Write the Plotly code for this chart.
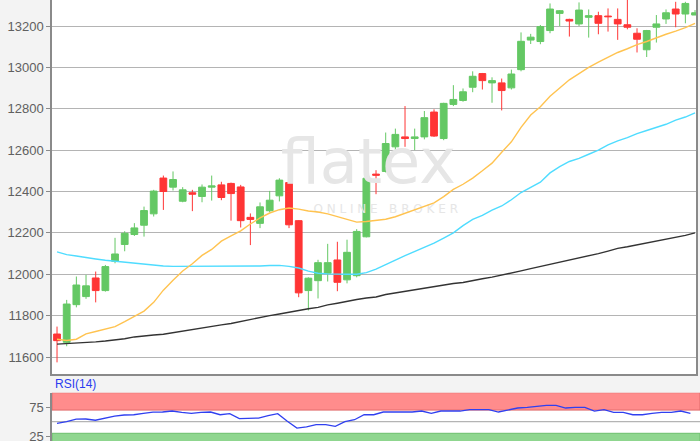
import plotly.graph_objects as go

# ---- data ----
idx = list(range(67))
open_ = [11711,11671,11853,11892,11982,11921,12063,12144,12192,12237,12292,12465,12421,12353,12394,12376,12421,
         12432,12439,12422,12275,12246,12307,12379,12443,12259,11921,11969,12005,12069,11973,11993,12181,12484,12497,
         12616,12664,12656,12664,12784,12656,12821,12840,12904,12970,12925,12925,12901,12989,13132,13125,13178,13261,
         13232,13210,13242,13250,13248,13232,13206,13165,13085,13194,13234,13282,13258,13253]
high_ = [11747,11876,11989,11997,12013,12045,12176,12208,12247,12327,12408,12477,12497,12421,12408,12434,12477,
         12447,12443,12432,12294,12347,12403,12464,12500,12262,11985,12070,12147,12157,12167,12218,12540,12503,12685,
         12704,12813,12704,12789,12797,12829,12914,12898,12981,12973,12952,12946,12989,13169,13162,13205,13309,13277,
         13235,13314,13280,13269,13285,13285,13340,13189,13181,13253,13280,13317,13317,13277]
low_ = [11574,11652,11840,11881,11864,11916,12053,12111,12185,12182,12279,12311,12405,12348,12305,12348,12356,
        12358,12259,12226,12141,12223,12299,12352,12223,11889,11825,11883,11965,11918,11956,11985,12178,12387,12492,
        12583,12616,12600,12652,12664,12648,12813,12834,12880,12893,12829,12792,12893,12981,13113,13112,13165,13200,
        13149,13200,13144,13160,13173,13133,13184,13072,13050,13120,13210,13194,13213,13253]
close_ = [11679,11856,11948,11944,11921,12037,12098,12198,12224,12308,12402,12400,12458,12408,12387,12421,12427,
          12371,12390,12259,12265,12326,12358,12455,12239,11910,11981,12056,12056,11961,12106,12207,12464,12479,12632,
          12676,12656,12664,12757,12668,12826,12845,12882,12957,12936,12936,12888,12968,13126,13146,13197,13282,13274,
          13224,13277,13250,13213,13245,13210,13194,13136,13178,13210,13264,13258,13309,13264]

ma_short = [11686,11680,11686,11712,11723,11736,11747,11771,11795,11822,11864,11923,11971,12016,12051,12091,12120,
            12160,12185,12210,12243,12272,12296,12312,12320,12315,12306,12301,12292,12278,12265,12252,12255,12262,12266,
            12278,12295,12312,12330,12345,12375,12410,12435,12465,12500,12537,12590,12640,12710,12770,12810,12860,12900,
            12940,12970,13000,13025,13050,13072,13090,13110,13125,13143,13160,13175,13192,13213]
ma_mid = [12108,12095,12088,12080,12074,12068,12063,12058,12053,12049,12045,12040,12038,12038,12038,12038,12038,
          12038,12038,12038,12040,12040,12042,12043,12038,12030,12015,12005,12002,12000,12000,12000,12008,12025,12045,
          12068,12090,12110,12130,12150,12175,12200,12235,12265,12285,12310,12330,12360,12395,12420,12445,12490,12520,
          12545,12560,12580,12600,12625,12645,12660,12680,12695,12710,12725,12745,12760,12780]
ma_long = [11662,11664,11667,11671,11673,11677,11681,11688,11697,11703,11706,11710,11718,11724,11731,11740,11750,
           11755,11762,11772,11780,11790,11800,11808,11817,11825,11833,11840,11852,11860,11870,11878,11885,11890,11902,
           11910,11918,11925,11932,11941,11948,11955,11960,11970,11978,11986,11995,12005,12016,12027,12037,12047,12057,
           12067,12077,12090,12100,12112,12125,12133,12142,12150,12158,12167,12177,12188,12200]
rsi = [47,50,54.5,54.6,52.5,56.5,59.5,61.5,62,64.5,66.5,66.7,68.4,66.1,64.4,66,66.7,62,63.8,55.2,55.2,56.3,60.3,
       63.8,50.6,39,41,44.8,44.8,42,50,53.4,62,62,66.7,66.7,66.7,66.7,68.4,64.4,68.4,68.4,68.4,70.7,70.7,70.7,66.7,
       69.5,73.6,74.7,76.4,78,78,73.6,74.7,74.7,68.4,70.7,66,66,62,62,64.4,66,66,68.4,64.4]

price_ticks = [11600, 11800, 12000, 12200, 12400, 12600, 12800, 13000, 13200]
rsi_ticks = [25, 75]

GREEN = "#64c864"
RED = "#ff3535"

fig = go.Figure()

# watermark (under everything)
fig.add_trace(go.Scatter(x=[32.2], y=[12516], mode="text", text=["flatex"],
                         textfont=dict(family="DejaVu Sans", size=62, color="#e6e6e6"),
                         hoverinfo="skip", showlegend=False, xaxis="x", yaxis="y"))
fig.add_trace(go.Scatter(x=[34.0], y=[12310], mode="text", text=["O N L I N E   B R O K E R"],
                         textfont=dict(family="DejaVu Sans", size=12, color="#e6e6e6"),
                         hoverinfo="skip", showlegend=False, xaxis="x", yaxis="y"))

fig.add_trace(go.Scatter(x=idx, y=ma_long, mode="lines", line=dict(color="#333333", width=1.4),
                         showlegend=False, xaxis="x", yaxis="y"))
fig.add_trace(go.Scatter(x=idx, y=ma_mid, mode="lines", line=dict(color="#4fdcff", width=1.4),
                         showlegend=False, xaxis="x", yaxis="y"))
fig.add_trace(go.Scatter(x=idx, y=ma_short, mode="lines", line=dict(color="#ffc350", width=1.4),
                         showlegend=False, xaxis="x", yaxis="y"))

fig.add_trace(go.Candlestick(x=idx, open=open_, high=high_, low=low_, close=close_,
                             increasing=dict(line=dict(color=GREEN, width=1), fillcolor=GREEN),
                             decreasing=dict(line=dict(color=RED, width=1), fillcolor=RED),
                             whiskerwidth=0, showlegend=False, xaxis="x", yaxis="y"))

fig.add_trace(go.Scatter(x=idx, y=rsi, mode="lines", line=dict(color="#3040f0", width=1.3),
                         showlegend=False, xaxis="x2", yaxis="y2"))

# RSI bands
fig.add_shape(type="rect", xref="x2 domain", yref="y2", x0=0, x1=1, y0=70, y1=100,
              fillcolor="#ff8c8c", line=dict(color="#e06a6a", width=1), layer="below")
fig.add_shape(type="rect", xref="x2 domain", yref="y2", x0=0, x1=1, y0=0, y1=30,
              fillcolor="#8fd68f", line=dict(color="#6cbf6c", width=1), layer="below")
fig.add_shape(type="line", xref="x2 domain", yref="y2", x0=0, x1=1, y0=50, y1=50,
              line=dict(color="#b4b4b4", width=1.3), layer="below")

fig.add_annotation(text="RSI(14)", xref="paper", yref="paper", x=53/700, y=1-384/441,
                   xanchor="left", yanchor="middle", showarrow=False,
                   font=dict(family="Liberation Sans", size=12, color="#2a3cf0"))

tickfont = dict(family="Liberation Sans", size=13, color="#606060")

fig.update_layout(
    width=700, height=441,
    margin=dict(l=0, r=0, t=0, b=0, pad=0, autoexpand=False),
    paper_bgcolor="#f3f3f3", plot_bgcolor="#ffffff",
    showlegend=False,
    boxgap=0.3, boxgroupgap=0,
    xaxis=dict(domain=[52/700, 696/700], range=[-0.52, 66.1], showgrid=False, zeroline=False,
               showticklabels=False, ticks="", showline=True, linecolor="#8a8a8a", linewidth=1.5,
               rangeslider=dict(visible=False), anchor="y", automargin=False),
    yaxis=dict(domain=[1-374/441, 1], range=[11517.8, 13325.7], tickvals=price_ticks,
               ticktext=[str(v) for v in price_ticks], showgrid=True, gridcolor="#b4b4b4", gridwidth=1.3,
               zeroline=False, showline=True, linecolor="#8a8a8a", linewidth=1.5, mirror=True,
               ticks="outside", ticklen=4, tickcolor="#8a8a8a", tickfont=tickfont, anchor="x",
               automargin=False, ticklabeloverflow="allow"),
    xaxis2=dict(domain=[52/700, 1.0], range=[-0.52, 67.0], showgrid=False, zeroline=False,
                showticklabels=False, ticks="", showline=False, anchor="y2", automargin=False),
    yaxis2=dict(domain=[0, 1-392.7/441], range=[16.7, 100], tickvals=rsi_ticks,
                ticktext=[str(v) for v in rsi_ticks], showgrid=False, zeroline=False,
                showline=True, linecolor="#8a8a8a", linewidth=1.5,
                ticks="outside", ticklen=4, tickcolor="#8a8a8a", tickfont=tickfont, anchor="x2",
                automargin=False, ticklabeloverflow="allow"),
)

fig.write_html("out.html", config={"displayModeBar": False},
               post_script="document.body.style.margin='0';")
